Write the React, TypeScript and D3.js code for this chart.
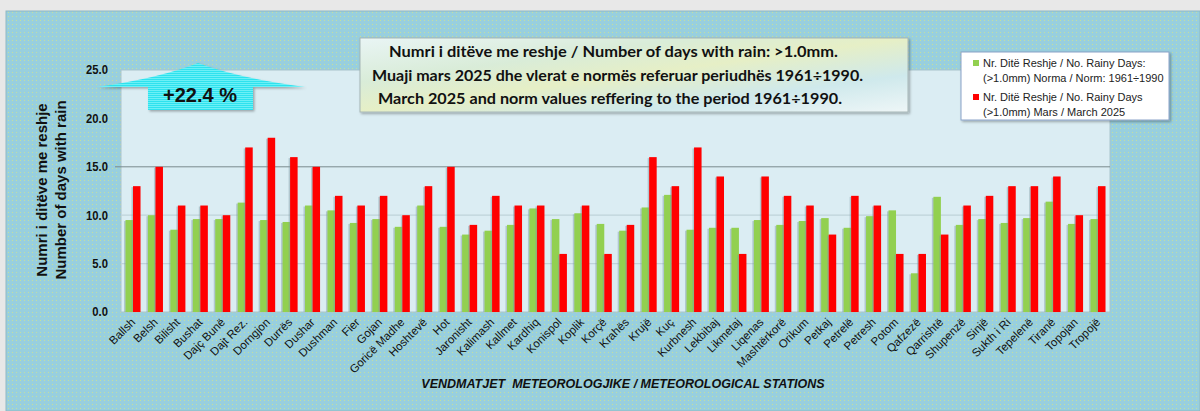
import React from 'react';
import * as d3 from 'd3';

// stations (x axis)
const stations = [
  'Ballsh', 'Belsh', 'Bilisht', 'Bushat', 'Dajç Bunë', 'Dajt Rez.', 'Dorngjon', 'Durrës', 'Dushar', 'Dushman',
  'Fier', 'Gojan', 'Goricë Madhe', 'Hoshtevë', 'Hot', 'Jaronisht', 'Kalimash', 'Kallmet', 'Kardhiq', 'Konispol',
  'Koplik', 'Korçë', 'Krahës', 'Krujë', 'Kuç', 'Kurbnesh', 'Lekbibaj', 'Likmetaj', 'Liqenas', 'Mashtërkorë',
  'Orikum', 'Petkaj', 'Petrelë', 'Petresh', 'Potom', 'Qafzezë', 'Qarrishtë', 'Shupenzë', 'Sinjë', 'Sukth i Ri',
  'Tepelenë', 'Tiranë', 'Topojan', 'Tropojë',
];

// norm 1961-1990
const normValues = [
  9.5, 10.0, 8.5, 9.6, 9.6, 11.3, 9.5, 9.3, 11.0, 10.5,
  9.2, 9.6, 8.8, 11.0, 8.8, 8.0, 8.4, 9.0, 10.7, 9.6,
  10.2, 9.1, 8.4, 10.8, 12.1, 8.5, 8.7, 8.7, 9.5, 9.0,
  9.4, 9.7, 8.7, 9.9, 10.5, 4.0, 11.9, 9.0, 9.6, 9.2,
  9.7, 11.4, 9.1, 9.6,
];

// March 2025
const marchValues = [
  13, 15, 11, 11, 10, 17, 18, 16, 15, 12,
  11, 12, 10, 13, 15, 9, 12, 11, 11, 6,
  11, 6, 9, 16, 13, 17, 14, 6, 14, 12,
  11, 8, 12, 11, 6, 6, 8, 11, 12, 13,
  13, 14, 10, 13,
];

const yTicks = [0, 5, 10, 15, 20, 25];

const titleLines = [
  'Numri i ditëve me reshje / Number of days with rain: >1.0mm.',
  'Muaji mars 2025 dhe vlerat e normës referuar periudhës 1961÷1990.',
  'March 2025 and norm values reffering to the period 1961÷1990.',
];

const legendItems = [
  { color: '#92d050', lines: ['Nr. Ditë Reshje / No. Rainy Days:', '(>1.0mm) Norma / Norm: 1961÷1990'] },
  { color: '#ff0000', lines: ['Nr. Ditë Reshje / No. Rainy Days', '(>1.0mm) Mars / March 2025'] },
];

const W = 1200;
const H = 411;
const plot = { left: 121, right: 1110, top: 70, bottom: 312 };
const arial = '"Liberation Sans", Arial, sans-serif';

// title line layout: start x, baseline y, width
const titleLayout = [
  { x: 389, y: 57, w: 449 },
  { x: 372, y: 81, w: 491 },
  { x: 378, y: 104, w: 464 },
];

export default function App() {
  const x = d3.scaleBand().domain(stations).range([plot.left, plot.right]).paddingInner(0.33).paddingOuter(0.2);
  const sub = d3.scaleBand().domain(['norm', 'march']).range([0, x.bandwidth()]);
  const y = d3.scaleLinear().domain([0, 25]).range([plot.bottom, plot.top]);
  const fmt = d3.format('.1f');

  return (
    <svg width={W} height={H} style={{ position: 'absolute', left: 0, top: 0 }} fontFamily={arial}>
      <defs>
        <pattern id="bgdots" width="4" height="4" patternUnits="userSpaceOnUse">
          <rect width="4" height="4" fill="#98cfde" />
          <rect x="0" y="0" width="1" height="1" fill="#e6ec6c" opacity="0.55" />
        </pattern>
        <linearGradient id="titlebg" x1="0" y1="0" x2="1" y2="1">
          <stop offset="0" stopColor="#e9f5f5" />
          <stop offset="0.3" stopColor="#d9ecd8" />
          <stop offset="0.5" stopColor="#e6efc6" />
          <stop offset="0.75" stopColor="#cfe9ec" />
          <stop offset="1" stopColor="#eef6f7" />
        </linearGradient>
        <pattern id="cyan" width="4" height="2" patternUnits="userSpaceOnUse">
          <rect width="4" height="2" fill="#2fe2ee" />
          <rect width="4" height="1" fill="#6cf0f6" />
        </pattern>
        <filter id="shadow" x="-10%" y="-10%" width="130%" height="140%">
          <feDropShadow dx="1.5" dy="1.5" stdDeviation="1" floodColor="#000" floodOpacity="0.3" />
        </filter>
      </defs>

      <rect width={W} height={H} fill="#e8e8e8" />
      <rect x={6} y={11} width={W - 6} height={H - 11} fill="url(#bgdots)" stroke="#8fb8c2" />

      {/* plot area */}
      <rect x={plot.left} y={plot.top} width={plot.right - plot.left} height={plot.bottom - plot.top}
        fill="#dbedf3" stroke="#a9c4cc" />

      {/* grid */}
      {[5, 10].map((t) => (
        <line key={t} x1={plot.left} x2={plot.right} y1={y(t)} y2={y(t)} stroke="#bfd3da" strokeWidth={1.2} />
      ))}
      <line x1={plot.left - 6} x2={plot.right} y1={y(15)} y2={y(15)} stroke="#7b8a8e" strokeWidth={1} />

      {/* y ticks */}
      {yTicks.map((t) => (
        <text key={t} x={108} y={y(t) + 4.5} textAnchor="end" fontSize={12.5} fontWeight="bold" fill="#111"
          transform={`translate(${108 * 0.1},0) scale(0.9,1)`}>
          {fmt(t)}
        </text>
      ))}

      {/* y title */}
      <g transform="translate(47,190) rotate(-90)">
        <text textAnchor="middle" fontSize={15} fontWeight="bold" fill="#111">Numri i ditëve me reshje</text>
        <text y={19} textAnchor="middle" fontSize={15} fontWeight="bold" fill="#111">Number of days with rain</text>
      </g>

      {/* bars */}
      {stations.map((s, i) => {
        const x0 = x(s) as number;
        const bw = sub.bandwidth();
        const bars = [
          { k: 'norm', v: normValues[i], c: '#92d050' },
          { k: 'march', v: marchValues[i], c: '#ff0000' },
        ];
        return (
          <g key={s}>
            {bars.map((b) => {
              const bx = x0 + (sub(b.k) as number);
              return (
                <g key={b.k}>
                  <rect x={bx - 1.5} y={y(b.v) + 1} width={bw} height={plot.bottom - y(b.v) - 1} fill="#7f9aa3" opacity={0.45} />
                  <rect x={bx} y={y(b.v)} width={bw} height={plot.bottom - y(b.v)} fill={b.c} />
                </g>
              );
            })}
          </g>
        );
      })}

      {/* x labels */}
      {stations.map((s) => {
        const cx = (x(s) as number) + x.bandwidth() / 2 + 3;
        return (
          <text key={s} transform={`translate(${cx},${323}) rotate(-45)`} textAnchor="end" fontSize={11.5} fill="#111">
            {s}
          </text>
        );
      })}

      <text x={623} y={388} textAnchor="middle" fontSize={12.5} fontWeight="bold" fontStyle="italic" fill="#111">
        VENDMATJET{'\u00a0\u00a0'}METEOROLOGJIKE / METEOROLOGICAL STATIONS
      </text>

      {/* title box */}
      <rect x={360} y={38} width={548} height={74} fill="url(#titlebg)" stroke="#a6b6b6" filter="url(#shadow)" />
      {titleLines.map((l, i) => (
        <text key={i} x={titleLayout[i].x} y={titleLayout[i].y} fontSize={16} fontWeight="bold"
          textLength={titleLayout[i].w} lengthAdjust="spacingAndGlyphs"
          fill="#111" fontFamily='Lato, "Open Sans", sans-serif'>
          {l}
        </text>
      ))}

      {/* legend */}
      <rect x={961} y={52} width={208} height={68} fill="#fff" stroke="#8aa2c8" filter="url(#shadow)" />
      {legendItems.map((it, i) => (
        <g key={i} transform={`translate(0,${i * 34})`}>
          <rect x={973} y={60} width={6} height={6} fill={it.color} />
          {it.lines.map((l, j) => (
            <text key={j} x={983} y={67 + j * 15} fontSize={11} fill="#222">
              {l}
            </text>
          ))}
        </g>
      ))}

      {/* +22.4 % badge */}
      <g filter="url(#shadow)">
        <path d="M97,87 Q160,78 198,63 Q238,78 305,87 L253,87 L253,110 L148,110 L148,87 Z" fill="url(#cyan)" />
      </g>
      <text x={200} y={102} textAnchor="middle" fontSize={20} fontWeight="bold" fill="#111">+22.4 %</text>
    </svg>
  );
}
